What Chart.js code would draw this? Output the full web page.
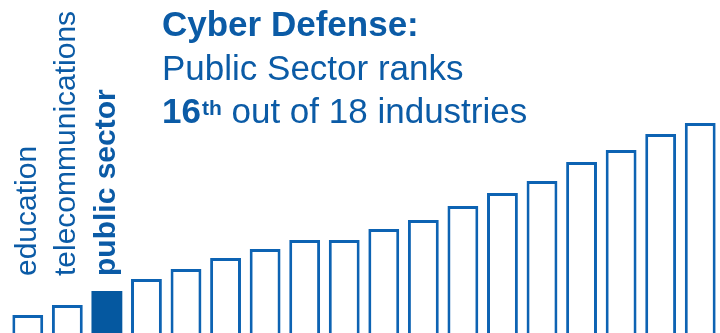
<!DOCTYPE html>
<html>
<head>
<meta charset="utf-8">
<script src="https://cdn.jsdelivr.net/npm/chart.js@4"></script>
<style>
  html, body { margin: 0; padding: 0; background: #fff; }
  #wrap { position: relative; width: 720px; height: 333px; }
</style>
</head>
<body>
<div id="wrap"><canvas id="myChart"></canvas></div>
<script>
// industries, ranked from weakest to strongest cyber defense
const industries = ['education', 'telecommunications', 'public sector',
    '', '', '', '', '', '', '', '', '', '', '', '', '', '', ''];
const scores = [18, 28, 42, 54, 64, 75, 84, 93, 93, 104, 113, 127, 140, 152, 171, 183, 199, 210];
const highlight = 2; // public sector

const blue = '#0b5ba6';
const lineBlue = '#0d63b3';
const fillBlue = '#0558a0';
const fontFamily = '"Liberation Sans", Arial, Helvetica, sans-serif';

const ctx = document.getElementById('myChart').getContext('2d');

// rotated labels above the first bars
const barLabels = {
    id: 'barLabels',
    afterDatasetsDraw(chart) {
        const c = chart.ctx;
        const x = chart.scales.x;
        c.save();
        c.fillStyle = blue;
        c.textAlign = 'left';
        c.textBaseline = 'alphabetic';
        industries.forEach((name, i) => {
            if (!name) return;
            c.save();
            c.font = (i === highlight ? 'bold ' : '') + '30px ' + fontFamily;
            c.translate(x.getPixelForValue(i) + 8, 276);
            c.rotate(-Math.PI / 2);
            c.fillText(name, 0, 0);
            c.restore();
        });
        c.restore();
    }
};

// headline text in the top right
const headline = {
    id: 'headline',
    afterDraw(chart) {
        const c = chart.ctx;
        c.save();
        c.fillStyle = blue;
        c.textAlign = 'left';
        c.textBaseline = 'alphabetic';
        c.font = 'bold 35px ' + fontFamily;
        c.fillText('Cyber Defense:', 162, 36);
        c.font = '35px ' + fontFamily;
        c.fillText('Public Sector ranks', 162, 80);
        let px = 162;
        c.font = 'bold 35px ' + fontFamily;
        c.fillText('16', px, 123);
        px += c.measureText('16').width + 1;
        c.font = 'bold 21px ' + fontFamily;
        c.fillText('th', px, 115);
        px += c.measureText('th').width;
        c.font = '35px ' + fontFamily;
        c.fillText(' out of 18 industries', px, 123);
        c.restore();
    }
};

const myChart = new Chart(ctx, {
    type: 'bar',
    data: {
        labels: industries,
        datasets: [{
            data: scores,
            backgroundColor: scores.map((v, i) => i === highlight ? fillBlue : '#ffffff'),
            borderColor: lineBlue,
            borderWidth: scores.map((v, i) => i === highlight ? 0 : 3),
            barPercentage: 0.78,
            categoryPercentage: 1
        }]
    },
    options: {
        responsive: true,
        maintainAspectRatio: false,
        animation: false,
        layout: { padding: { left: 8, right: 0, top: 113, bottom: 0 } },
        scales: {
            x: { display: false },
            y: { display: false, min: 0, max: 220 }
        },
        plugins: {
            legend: { display: false },
            tooltip: { enabled: false }
        }
    },
    plugins: [barLabels, headline]
});
</script>
</body>
</html>
